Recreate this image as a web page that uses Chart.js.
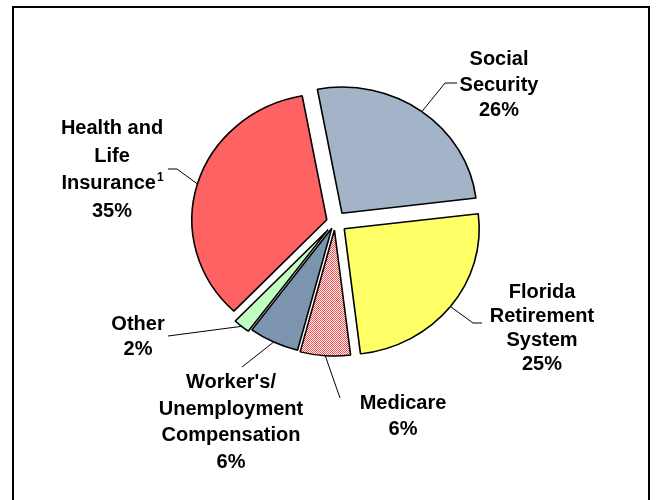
<!DOCTYPE html>
<html>
<head>
<meta charset="utf-8">
<script src="https://cdn.jsdelivr.net/npm/chart.js@4.4.1/dist/chart.umd.min.js"></script>
<style>
  html, body { margin: 0; padding: 0; background: #fff; overflow: hidden; }
  #wrap { position: relative; width: 659px; height: 500px; }
  #frame { position: absolute; left: 12px; top: 6px; width: 634px; height: 560px; border: 2px solid #000; pointer-events: none; }
  canvas { position: absolute; left: 0; top: 0; }
</style>
</head>
<body>
<div id="wrap">
  <canvas id="chart" width="659" height="500"></canvas>
  <div id="frame"></div>
</div>
<script>
'use strict';

// slices, clockwise from just left of 12 o'clock
const categories = ['Social Security', 'Florida Retirement System', 'Medicare',
  "Worker's/Unemployment Compensation", 'Other', 'Health and Life Insurance'];
const shares = [26, 25, 6, 6, 2, 35];
const labelLines = [
  ['Social', 'Security'],
  ['Florida', 'Retirement', 'System'],
  ['Medicare'],
  ["Worker's/", 'Unemployment', 'Compensation'],
  ['Other'],
  ['Health and', 'Life', 'Insurance'],
];
const footnotes = ['', '', '', '', '', '1'];

// styling / placement
const STRETCH = 1.071;            // the pie is a little wider than tall
const explode = [11, 11, 8, 7, 10, 8];
const labelPos = [
  { x: 499, y: 65, lh: 25.5, line: [[445, 83], [457, 83]] },
  { x: 542, y: 298, lh: 24, line: [[473, 323], [482, 323]] },
  { x: 403, y: 409, lh: 26, line: [[340, 398]] },
  { x: 231, y: 388, lh: 26.7, line: [[242, 367]] },
  { x: 138, y: 330, lh: 25, line: [[168, 336]] },
  { x: 112, y: 134, lh: 27.5, line: [[177, 169], [168, 169]] },
];

function checker(a, b) {
  const c = document.createElement('canvas');
  c.width = 2; c.height = 2;
  const g = c.getContext('2d');
  g.fillStyle = b; g.fillRect(0, 0, 2, 2);
  g.fillStyle = a; g.fillRect(0, 0, 1, 1); g.fillRect(1, 1, 1, 1);
  return g.createPattern(c, 'repeat');
}

const medicarePattern = checker('#FF4848', '#FFFFFF');
const colors = ['#A3B4C8', '#FFFF66', medicarePattern, '#7C94AE', '#C0FFC0', '#FF6262'];

const stretchPlugin = {
  id: 'stretch',
  beforeDatasetsDraw(chart) {
    const arcs = chart.getDatasetMeta(0).data;
    const cx = arcs[0].x;
    const ctx = chart.ctx;
    ctx.save();
    ctx.translate(cx, 0);
    ctx.scale(STRETCH, 1);
    ctx.translate(-cx, 0);
    // keep the checker pattern pixel aligned
    medicarePattern.setTransform(new DOMMatrix().translate(cx, 0).scale(1 / STRETCH, 1).translate(-cx, 0));
    arcs.forEach((arc, i) => {
      const mid = (arc.startAngle + arc.endAngle) / 2;
      arc.$dx = Math.cos(mid) * explode[i];
      arc.$dy = Math.sin(mid) * explode[i];
      arc.x += arc.$dx;
      arc.y += arc.$dy;
    });
  },
  afterDatasetsDraw(chart) {
    chart.getDatasetMeta(0).data.forEach(arc => {
      arc.x -= arc.$dx;
      arc.y -= arc.$dy;
    });
    chart.ctx.restore();
  },
};

const labelPlugin = {
  id: 'sliceLabels',
  afterDraw(chart) {
    const ctx = chart.ctx;
    const arcs = chart.getDatasetMeta(0).data;
    const font = 'bold 20px "Liberation Sans", Arial, sans-serif';
    ctx.save();
    ctx.strokeStyle = '#000';
    ctx.lineWidth = 1;
    arcs.forEach((arc, i) => {
      const mid = (arc.startAngle + arc.endAngle) / 2;
      const r = arc.outerRadius + explode[i];
      const tx = arc.x + Math.cos(mid) * r * STRETCH;
      const ty = arc.y + Math.sin(mid) * r;
      ctx.beginPath();
      ctx.moveTo(tx, ty);
      labelPos[i].line.forEach(p => ctx.lineTo(p[0], p[1]));
      ctx.stroke();
    });

    ctx.fillStyle = '#000';
    ctx.textBaseline = 'alphabetic';
    labelLines.forEach((lines, i) => {
      const pos = labelPos[i];
      const all = lines.concat([shares[i] + '%']);
      all.forEach((txt, k) => {
        const y = pos.y + k * pos.lh;
        ctx.font = font;
        if (k === lines.length - 1 && footnotes[i]) {
          const w1 = ctx.measureText(txt).width;
          ctx.font = 'bold 12px "Liberation Sans", Arial, sans-serif';
          const w2 = ctx.measureText(footnotes[i]).width;
          const x0 = pos.x - (w1 + w2) / 2;
          ctx.textAlign = 'left';
          ctx.fillText(footnotes[i], x0 + w1 + 1, y - 8);
          ctx.font = font;
          ctx.fillText(txt, x0, y);
        } else {
          ctx.textAlign = 'center';
          ctx.fillText(txt, pos.x, y);
        }
      });
    });
    ctx.restore();
  },
};

new Chart(document.getElementById('chart').getContext('2d'), {
  type: 'pie',
  data: {
    labels: categories,
    datasets: [{
      data: shares,
      backgroundColor: colors,
      borderColor: '#000',
      borderWidth: 1.5,
    }],
  },
  options: {
    responsive: false,
    animation: false,
    rotation: -10.5,
    radius: 126,
    layout: { padding: { left: 11, right: 0, top: 0, bottom: 56 } },
    plugins: {
      legend: { display: false },
      tooltip: { enabled: false },
    },
  },
  plugins: [stretchPlugin, labelPlugin],
});
</script>
</body>
</html>
